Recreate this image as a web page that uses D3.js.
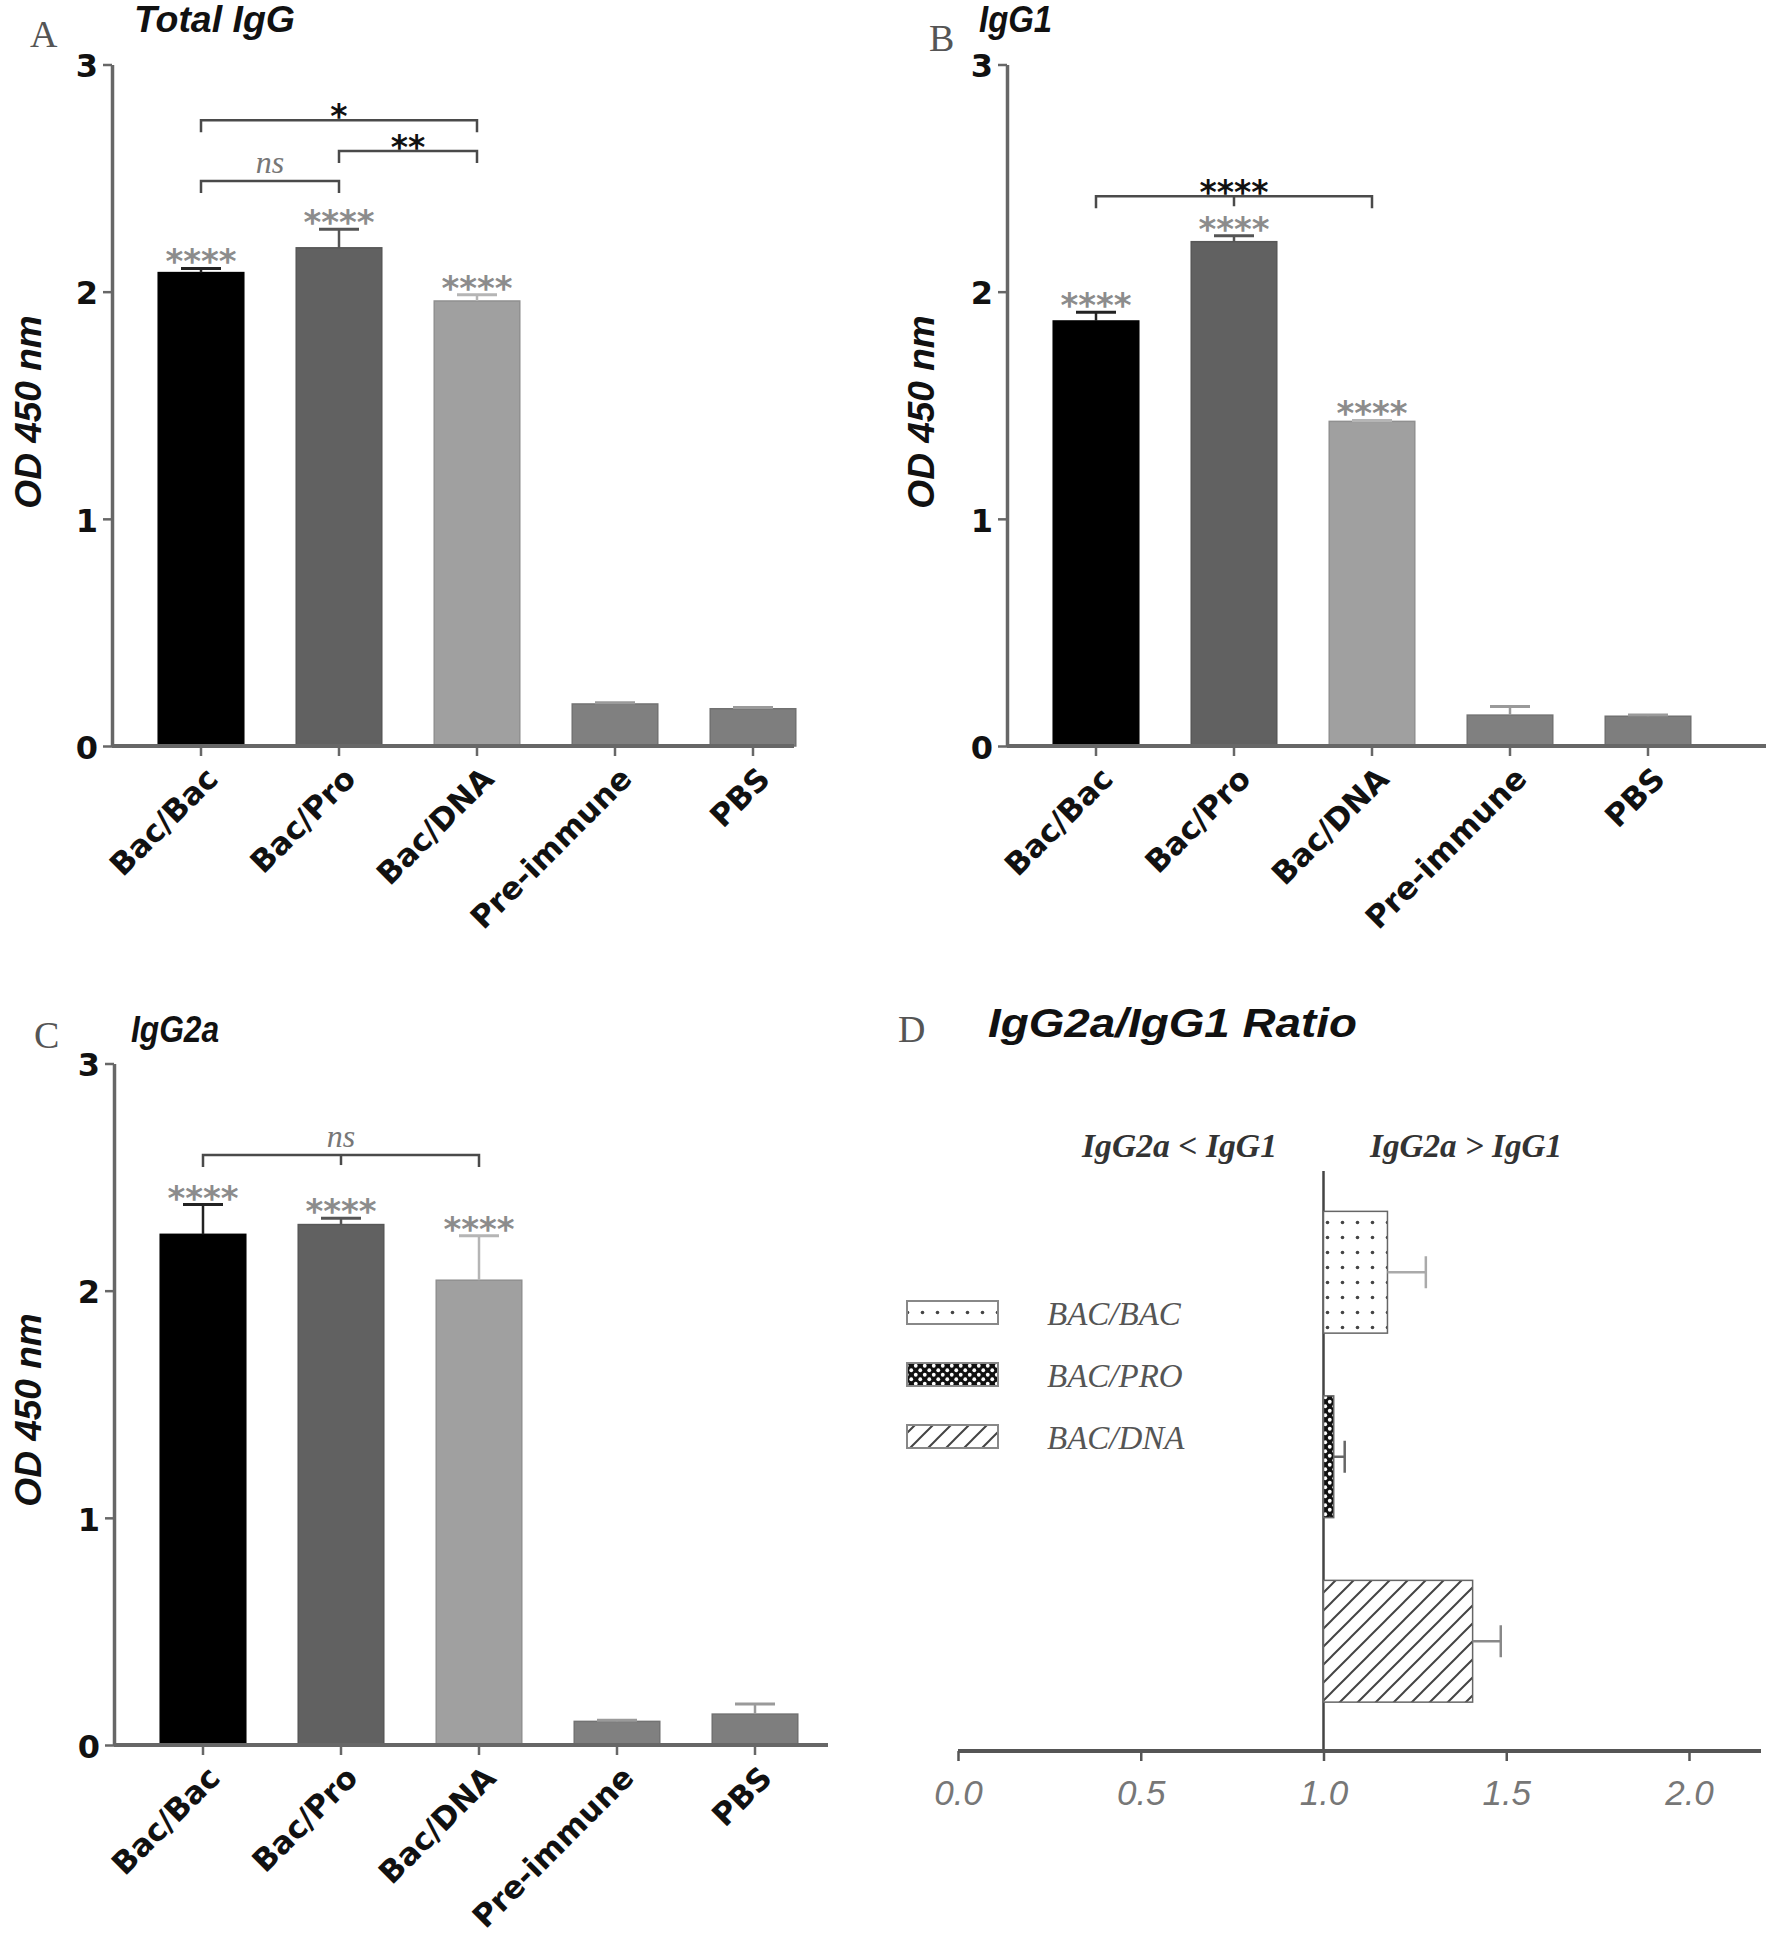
<!DOCTYPE html>
<html>
<head>
<meta charset="utf-8">
<script src="https://cdn.jsdelivr.net/npm/d3@7"></script>
<style>
  html, body { margin: 0; padding: 0; background: #fff; }
  svg { display: block; }
</style>
</head>
<body>
<svg id="chart" width="1770" height="1944"></svg>
<script>
// ---------------- data ----------------
const categories = ["Bac/Bac", "Bac/Pro", "Bac/DNA", "Pre-immune", "PBS"];
const yTicks = [0, 1, 2, 3];

const totalIgG    = [2.084, 2.193, 1.959, 0.185, 0.164];
const totalIgGErr = [0.018, 0.082, 0.027, 0.005, 0.005];

const igG1    = [1.871, 2.220, 1.429, 0.136, 0.131];
const igG1Err = [0.038, 0.026, 0.004, 0.038, 0.005];

const igG2a    = [2.248, 2.291, 2.046, 0.104, 0.136];
const igG2aErr = [0.131, 0.028, 0.196, 0.005, 0.044];

// groups flagged with **** above the bar
const starredA = [true, true, true, false, false];
const starredB = [true, true, true, false, false];
const starredC = [true, true, true, false, false];

// significance brackets: [from index, to index, height (OD), label, middle tick]
const bracketsA = [
  [0, 1, 2.487, "ns", false],
  [1, 2, 2.619, "**", false],
  [0, 2, 2.755, "*", false]
];
const bracketsB = [[0, 2, 2.42, "****", true]];
const bracketsC = [[0, 2, 2.597, "ns", true]];

const ratioGroups = ["BAC/BAC", "BAC/PRO", "BAC/DNA"];
const ratioValues = [1.175, 1.028, 1.408];
const ratioErr    = [0.105, 0.030, 0.077];
const ratioTicks  = [0.0, 0.5, 1.0, 1.5, 2.0];

// ---------------- style ----------------
const barFill   = ["#000000", "#616161", "#a0a0a0", "#808080", "#7e7e7e"];
const errColor  = ["#222222", "#555555", "#b5b5b5", "#9a9a9a", "#9a9a9a"];
const axisColor = "#676767";
const SANS = "'Liberation Sans', Arial, sans-serif";
const WIDE = "'DejaVu Sans', 'Liberation Sans', sans-serif";
const SERIF = "'Liberation Serif', 'Times New Roman', serif";

const svg = d3.select("#chart");

// ---------------- bar panel ----------------
function barPanel(opt) {
  const g = svg.append("g");
  const y = d3.scaleLinear().domain([0, 3]).range([opt.bottom, opt.bottom - 681.5]);
  const x = d3.scaleBand().domain(categories)
    .range([opt.left + 20, opt.left + 20 + 5 * 138])
    .paddingInner(0.38).paddingOuter(0.19);

  // bars
  g.selectAll("rect.bar").data(opt.values).join("rect")
    .attr("x", (d, i) => x(categories[i]))
    .attr("y", d => y(d))
    .attr("width", x.bandwidth())
    .attr("height", d => y(0) - y(d))
    .attr("fill", (d, i) => barFill[i])
    .attr("stroke", (d, i) => d3.color(barFill[i]).darker(0.3))
    .attr("stroke-width", 1.5);

  // error bars (upper)
  opt.values.forEach((v, i) => {
    const cx = x(categories[i]) + x.bandwidth() / 2;
    const top = y(v + opt.err[i]);
    g.append("line").attr("x1", cx).attr("x2", cx).attr("y1", y(v)).attr("y2", top)
      .attr("stroke", errColor[i]).attr("stroke-width", 2.5);
    g.append("line").attr("x1", cx - 20).attr("x2", cx + 20).attr("y1", top).attr("y2", top)
      .attr("stroke", errColor[i]).attr("stroke-width", 3);
    if (opt.starred[i]) {
      g.append("text").attr("x", cx).attr("y", top + 5)
        .attr("text-anchor", "middle")
        .attr("font-family", WIDE).attr("font-weight", "bold").attr("font-size", 34)
        .attr("fill", "#8c8c8c").text("****");
    }
  });

  // y axis
  const ya = g.append("g").attr("transform", `translate(${opt.left},0)`)
    .call(d3.axisLeft(y).tickValues(yTicks).tickSize(9).tickSizeOuter(0).tickPadding(5).tickFormat(d3.format("d")));
  ya.select(".domain").attr("stroke", axisColor).attr("stroke-width", 3.5);
  ya.selectAll(".tick line").attr("stroke", axisColor).attr("stroke-width", 2.5);
  ya.selectAll(".tick text").attr("font-family", WIDE).attr("font-weight", "bold")
    .attr("font-size", 32).attr("fill", "#111").attr("dy", "0.38em");

  // x axis
  const xa = g.append("g").attr("transform", `translate(0,${opt.bottom})`)
    .call(d3.axisBottom(x).tickSize(10).tickSizeOuter(0));
  xa.select(".domain").remove();
  xa.append("line").attr("x1", opt.left).attr("x2", opt.axisEnd).attr("y1", 0).attr("y2", 0)
    .attr("stroke", axisColor).attr("stroke-width", 4);
  xa.selectAll(".tick line").attr("stroke", axisColor).attr("stroke-width", 2.5);
  xa.selectAll(".tick text")
    .attr("font-family", WIDE).attr("font-weight", "bold").attr("font-size", 31)
    .attr("fill", "#111").attr("text-anchor", "end")
    .attr("x", 0).attr("y", 0).attr("dy", "0.35em")
    .attr("transform", "translate(11,27) rotate(-45)");

  // brackets
  opt.brackets.forEach(([a, b, h, label, mid]) => {
    const x1 = x(categories[a]) + x.bandwidth() / 2;
    const x2 = x(categories[b]) + x.bandwidth() / 2;
    const yy = y(h);
    g.append("path")
      .attr("d", `M${x1},${yy + 12}V${yy}H${x2}V${yy + 12}`)
      .attr("fill", "none").attr("stroke", "#4a4a4a").attr("stroke-width", 2.5);
    if (mid) {
      const xm = (x1 + x2) / 2;
      g.append("line").attr("x1", xm).attr("x2", xm).attr("y1", yy).attr("y2", yy + 10)
        .attr("stroke", "#4a4a4a").attr("stroke-width", 2.5);
    }
    const t = g.append("text").attr("x", (x1 + x2) / 2).attr("text-anchor", "middle").text(label);
    if (label === "ns") {
      t.attr("y", yy - 8).attr("font-family", SERIF).attr("font-style", "italic")
        .attr("font-size", 32).attr("fill", "#777");
    } else {
      t.attr("y", yy + 8).attr("font-family", WIDE).attr("font-weight", "bold")
        .attr("font-size", 33).attr("fill", "#111");
    }
  });

  // y title
  g.append("text")
    .attr("transform", `translate(${opt.yTitleX},${opt.yTitleY}) rotate(-90)`)
    .attr("text-anchor", "middle").attr("dy", "0.35em")
    .attr("font-family", SANS).attr("font-weight", "bold").attr("font-style", "italic")
    .attr("font-size", 37).attr("fill", "#111").text("OD 450 nm");

  // panel title & letter
  g.append("text").attr("x", opt.titleX).attr("y", opt.titleY)
    .attr("font-family", SANS).attr("font-weight", "bold").attr("font-style", "italic")
    .attr("font-size", 36).attr("fill", "#111")
    .attr("textLength", opt.titleLen).attr("lengthAdjust", "spacingAndGlyphs")
    .text(opt.title);
  g.append("text").attr("x", opt.letterX).attr("y", opt.letterY)
    .attr("font-family", SERIF).attr("font-size", 38).attr("fill", "#555").text(opt.letter);
}

barPanel({ left: 112, bottom: 746, axisEnd: 794, values: totalIgG, err: totalIgGErr,
  starred: starredA, brackets: bracketsA, title: "Total IgG", titleX: 134, titleY: 32, titleLen: 161,
  letter: "A", letterX: 30, letterY: 47, yTitleX: 28, yTitleY: 412 });

barPanel({ left: 1007, bottom: 746, axisEnd: 1766, values: igG1, err: igG1Err,
  starred: starredB, brackets: bracketsB, title: "IgG1", titleX: 979, titleY: 32, titleLen: 73,
  letter: "B", letterX: 929, letterY: 51, yTitleX: 921, yTitleY: 412 });

barPanel({ left: 114, bottom: 1745, axisEnd: 828, values: igG2a, err: igG2aErr,
  starred: starredC, brackets: bracketsC, title: "IgG2a", titleX: 131, titleY: 1042, titleLen: 88,
  letter: "C", letterX: 34, letterY: 1048, yTitleX: 28, yTitleY: 1410 });

// ---------------- panel D ----------------
const defs = svg.append("defs");
const pDots = defs.append("pattern").attr("id", "dots").attr("patternUnits", "userSpaceOnUse")
  .attr("width", 15).attr("height", 15);
pDots.append("rect").attr("width", 15).attr("height", 15).attr("fill", "#fff");
pDots.append("circle").attr("cx", 7.5).attr("cy", 7.5).attr("r", 1.8).attr("fill", "#444");

const pCheck = defs.append("pattern").attr("id", "check").attr("patternUnits", "userSpaceOnUse")
  .attr("width", 9).attr("height", 9);
pCheck.append("rect").attr("width", 9).attr("height", 9).attr("fill", "#111");
pCheck.append("circle").attr("cx", 2.25).attr("cy", 2.25).attr("r", 1.9).attr("fill", "#fff");
pCheck.append("circle").attr("cx", 6.75).attr("cy", 6.75).attr("r", 1.9).attr("fill", "#fff");

const pHatch = defs.append("pattern").attr("id", "hatch").attr("patternUnits", "userSpaceOnUse")
  .attr("width", 18).attr("height", 18);
pHatch.append("rect").attr("width", 18).attr("height", 18).attr("fill", "#fff");
pHatch.append("path").attr("d", "M-4.5,4.5 L4.5,-4.5 M0,18 L18,0 M13.5,22.5 L22.5,13.5")
  .attr("stroke", "#444").attr("stroke-width", 2);

const ratioFill = ["url(#dots)", "url(#check)", "url(#hatch)"];
const ratioErrColor = ["#aaaaaa", "#666666", "#888888"];

const gD = svg.append("g");
const xr = d3.scaleLinear().domain([0, 2]).range([958, 1689]);
const yr = d3.scaleBand().domain(ratioGroups).range([1180, 1733.5])
  .paddingInner(0.34).paddingOuter(0.17);
const axisYD = 1751;

// reference line at ratio 1
gD.append("line").attr("x1", xr(1)).attr("x2", xr(1)).attr("y1", 1171).attr("y2", axisYD)
  .attr("stroke", "#444").attr("stroke-width", 2.5);

ratioGroups.forEach((grp, i) => {
  const yy = yr(grp);
  gD.append("rect").attr("x", xr(1)).attr("y", yy)
    .attr("width", xr(ratioValues[i]) - xr(1)).attr("height", yr.bandwidth())
    .attr("fill", ratioFill[i]).attr("stroke", "#666").attr("stroke-width", 1.5);
  const cy = yy + yr.bandwidth() / 2;
  const xe = xr(ratioValues[i] + ratioErr[i]);
  gD.append("line").attr("x1", xr(ratioValues[i])).attr("x2", xe).attr("y1", cy).attr("y2", cy)
    .attr("stroke", ratioErrColor[i]).attr("stroke-width", 2.5);
  gD.append("line").attr("x1", xe).attr("x2", xe).attr("y1", cy - 16).attr("y2", cy + 16)
    .attr("stroke", ratioErrColor[i]).attr("stroke-width", 2.5);
});

const xaD = gD.append("g").attr("transform", `translate(0,${axisYD})`)
  .call(d3.axisBottom(xr).tickValues(ratioTicks).tickSize(10).tickSizeOuter(0).tickPadding(19)
    .tickFormat(d3.format(".1f")));
xaD.select(".domain").remove();
xaD.append("line").attr("x1", 958).attr("x2", 1761).attr("y1", 0).attr("y2", 0)
  .attr("stroke", "#555").attr("stroke-width", 4);
xaD.selectAll(".tick line").attr("stroke", "#555").attr("stroke-width", 2.5);
xaD.selectAll(".tick text").attr("font-family", SANS).attr("font-style", "italic")
  .attr("font-size", 35).attr("fill", "#777");

// legend
ratioGroups.forEach((grp, i) => {
  const ly = 1301 + i * 62;
  gD.append("rect").attr("x", 907).attr("y", ly).attr("width", 91).attr("height", 23)
    .attr("fill", ratioFill[i]).attr("stroke", "#888").attr("stroke-width", 2);
  gD.append("text").attr("x", 1047).attr("y", ly + 12).attr("dy", "0.35em")
    .attr("font-family", SERIF).attr("font-style", "italic").attr("font-size", 33)
    .attr("fill", "#555").text(grp);
});

// direction headers
gD.append("text").attr("x", 1082).attr("y", 1157)
  .attr("font-family", SERIF).attr("font-style", "italic").attr("font-weight", "bold")
  .attr("font-size", 33).attr("fill", "#333")
  .attr("textLength", 195).attr("lengthAdjust", "spacingAndGlyphs").text("IgG2a < IgG1");
gD.append("text").attr("x", 1370).attr("y", 1157)
  .attr("font-family", SERIF).attr("font-style", "italic").attr("font-weight", "bold")
  .attr("font-size", 33).attr("fill", "#333")
  .attr("textLength", 192).attr("lengthAdjust", "spacingAndGlyphs").text("IgG2a > IgG1");

gD.append("text").attr("x", 988).attr("y", 1037)
  .attr("font-family", SANS).attr("font-weight", "bold").attr("font-style", "italic")
  .attr("font-size", 40).attr("fill", "#111")
  .attr("textLength", 369).attr("lengthAdjust", "spacingAndGlyphs").text("IgG2a/IgG1 Ratio");
gD.append("text").attr("x", 898).attr("y", 1042)
  .attr("font-family", SERIF).attr("font-size", 38).attr("fill", "#555").text("D");
</script>
</body>
</html>
